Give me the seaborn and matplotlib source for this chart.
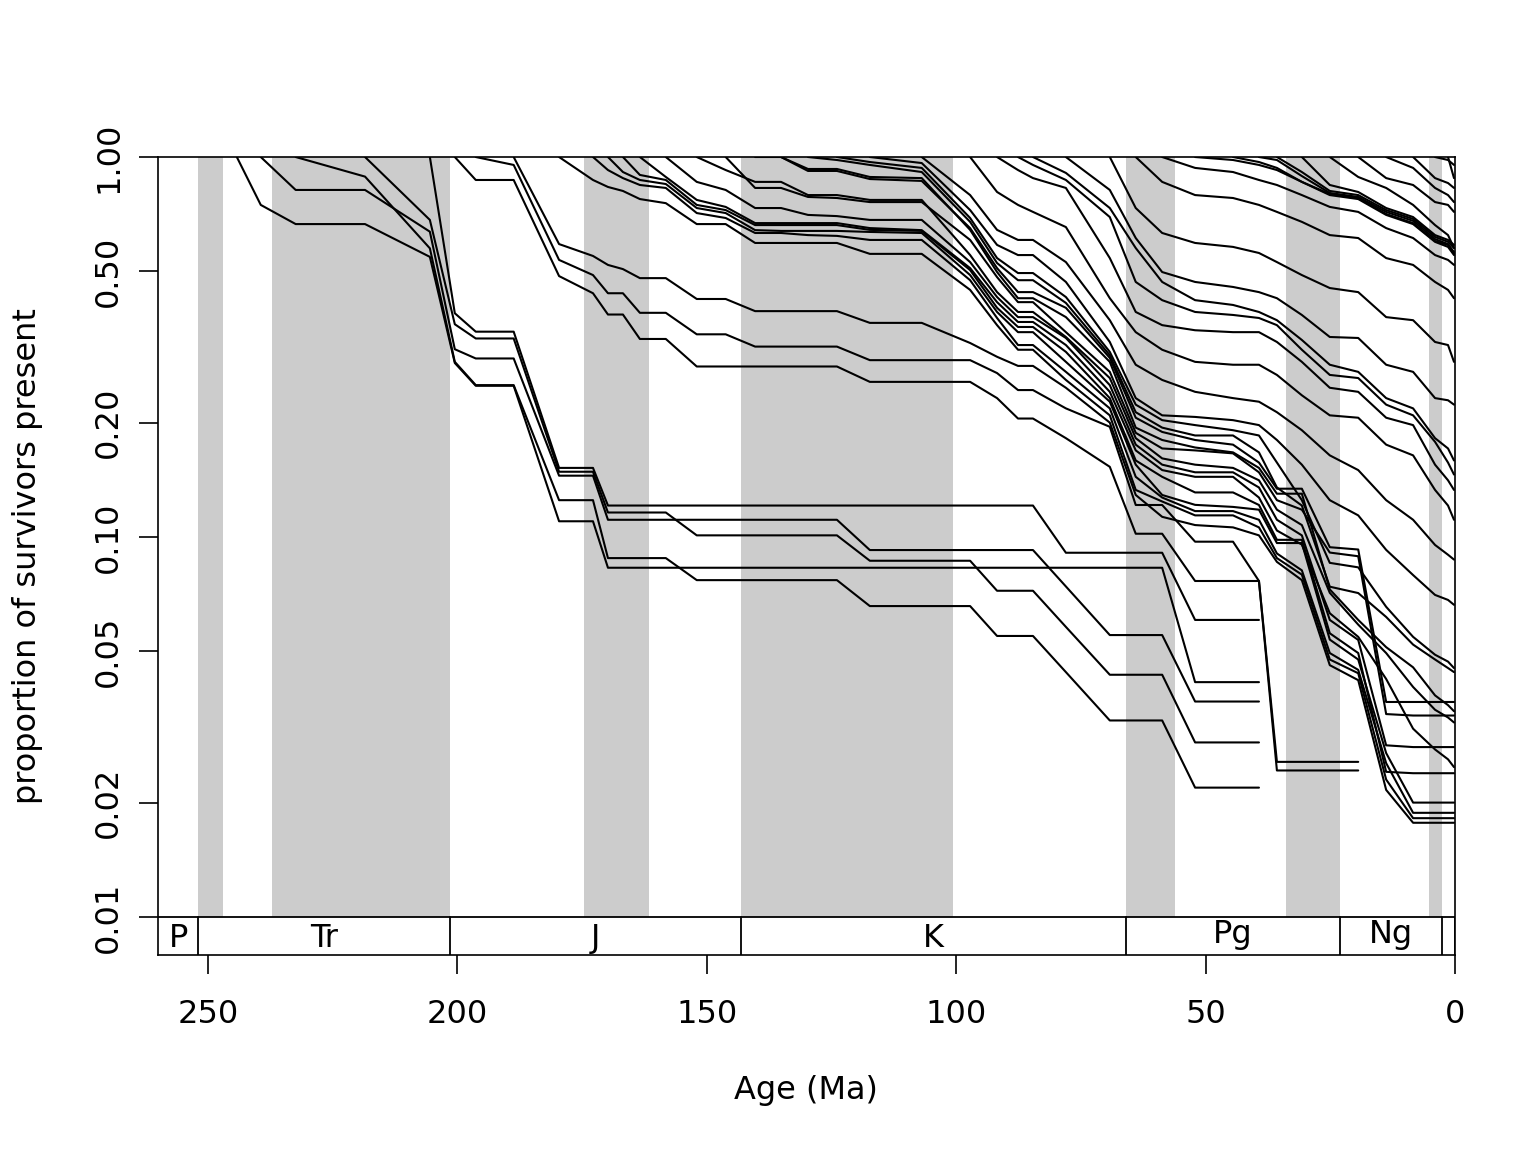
import matplotlib
matplotlib.use("Agg")
import matplotlib.pyplot as plt
import numpy as np
import pandas as pd
import seaborn as sns

# ---------------- data ----------------
# time-bin midpoints (Ma) at which survivorship is evaluated
bin_age = [244.2, 239.4, 232.4, 218.5, 205.5, 200.5, 196.3, 188.7, 179.6, 172.8,
           169.8, 166.8, 163.4, 158.2, 152.0, 146.2, 140.3, 135.1, 129.7, 123.9,
           117.3, 106.9, 97.2, 91.8, 87.6, 84.6, 78.0, 69.2, 64.0, 58.7,
           52.1, 44.5, 39.3, 35.7, 30.7, 25.1, 19.4, 13.8, 8.4, 4.0,
           1.4, 0.2]

# proportion of each cohort's taxa still present, from the cohort's start bin onward
c_244 = [1.0, 0.748, 0.666, 0.666, 0.546, 0.287, 0.250, 0.250, 0.110, 0.110,
         0.083, 0.083, 0.083, 0.083, 0.083, 0.083, 0.083, 0.083, 0.083, 0.083,
         0.083, 0.083, 0.083, 0.083, 0.083, 0.083, 0.083, 0.083, 0.083, 0.083,
         0.0415, 0.0415, 0.0415]
c_239 = [1.0, 0.819, 0.819, 0.636, 0.312, 0.295, 0.295, 0.145, 0.145,
         0.111, 0.111, 0.111, 0.111, 0.111, 0.111, 0.111, 0.111, 0.111, 0.111,
         0.0924, 0.0924, 0.0924, 0.0924, 0.0924, 0.0924, 0.0741,
         0.0552, 0.0552, 0.0552, 0.0369, 0.0369, 0.0369]
c_232 = [1.0, 0.888, 0.575, 0.289, 0.251, 0.251, 0.125, 0.125,
         0.088, 0.088, 0.088, 0.088, 0.077, 0.077, 0.077, 0.077, 0.077, 0.077,
         0.0658, 0.0658, 0.0658, 0.0549, 0.0549, 0.0549, 0.0441,
         0.0329, 0.0329, 0.0329, 0.0219, 0.0219, 0.0219]
c_218 = [1.0, 0.683, 0.363, 0.333, 0.333, 0.1485, 0.1485,
         0.116, 0.116, 0.116, 0.116, 0.101, 0.101, 0.101, 0.101, 0.101, 0.101,
         0.0866, 0.0866, 0.0866, 0.0722, 0.0722, 0.0722, 0.058,
         0.0434, 0.0434, 0.0434, 0.0288, 0.0288, 0.0288]
c_205 = [1.0, 0.388, 0.347, 0.347, 0.152, 0.152,
         0.121, 0.121, 0.121, 0.121, 0.121, 0.121, 0.121, 0.121,
         0.121, 0.121, 0.121, 0.121, 0.121, 0.121, 0.121, 0.121,
         0.0909, 0.0909, 0.0909, 0.0909, 0.0605, 0.0605, 0.0605]
c_200 = [1.0, 0.870, 0.870, 0.486, 0.438, 0.385, 0.385, 0.332, 0.332,
         0.281, 0.281, 0.281, 0.281, 0.281, 0.281, 0.256, 0.256, 0.256,
         0.232, 0.205, 0.205, 0.182, 0.153, 0.102, 0.102, 0.0766, 0.0766, 0.0766,
         0.0243, 0.0243, 0.0243, 0.0243]
c_196 = [1.0, 0.953, 0.536, 0.489, 0.438, 0.438, 0.389, 0.389, 0.3415, 0.3415,
         0.317, 0.317, 0.317, 0.317, 0.292, 0.292, 0.292,
         0.270, 0.2436, 0.2436, 0.218, 0.195, 0.1214, 0.1214, 0.0972, 0.0972, 0.0766,
         0.0256, 0.0256, 0.0256, 0.0256]
c_189 = [1.0, 0.590, 0.549, 0.520, 0.507, 0.480, 0.480, 0.423, 0.423,
         0.393, 0.393, 0.393, 0.393, 0.366, 0.366, 0.324, 0.298, 0.282, 0.282,
         0.247, 0.200, 0.129, 0.113, 0.1075, 0.106, 0.101, 0.086, 0.077,
         0.046, 0.042, 0.0216, 0.0177, 0.0177, 0.0177, 0.0177]
c_180 = [1.0, 0.870, 0.834, 0.814, 0.775, 0.756, 0.666, 0.666,
         0.594, 0.594, 0.594, 0.594, 0.556, 0.556, 0.447, 0.361, 0.311, 0.311,
         0.259, 0.209, 0.133, 0.124, 0.114, 0.114, 0.106, 0.088, 0.0796,
         0.0476, 0.0438, 0.0230, 0.0182, 0.0182, 0.0182, 0.0182]
c_173 = [1.0, 0.924, 0.880, 0.844, 0.829, 0.712, 0.691, 0.631, 0.631, 0.623,
         0.620, 0.605, 0.605, 0.474, 0.377, 0.320, 0.320, 0.272, 0.218,
         0.144, 0.127, 0.117, 0.117, 0.111, 0.0905, 0.0817, 0.0495, 0.0447,
         0.0254, 0.0188, 0.0188, 0.0188, 0.0188]
c_170 = [1.0, 0.913, 0.870, 0.849, 0.734, 0.712, 0.642, 0.639, 0.639, 0.639,
         0.635, 0.631, 0.489, 0.391, 0.346, 0.346, 0.289, 0.227,
         0.155, 0.129, 0.1215, 0.120, 0.118, 0.0964, 0.0964, 0.0537, 0.0476,
         0.0270, 0.0200, 0.0200, 0.0200, 0.0200]
c_167 = [1.0, 0.897, 0.870, 0.748, 0.725, 0.662, 0.662, 0.662, 0.662,
         0.643, 0.639, 0.504, 0.401, 0.357, 0.357, 0.307, 0.232,
         0.159, 0.144, 0.131, 0.131, 0.1214, 0.0983, 0.0983, 0.0558, 0.0495,
         0.0241, 0.0239, 0.0239, 0.0239, 0.0239]
c_163 = [1.0, 0.886, 0.771, 0.739, 0.670, 0.670, 0.670, 0.670, 0.650, 0.642,
         0.510, 0.415, 0.368, 0.368, 0.320, 0.241,
         0.169, 0.150, 0.144, 0.144, 0.127, 0.104, 0.0955, 0.0630, 0.0546,
         0.0423, 0.0313, 0.0276, 0.0260, 0.0248]
c_158 = [1.0, 0.860, 0.819, 0.734, 0.734, 0.704, 0.699, 0.683, 0.683,
         0.529, 0.428, 0.379, 0.379, 0.334, 0.251,
         0.175, 0.155, 0.148, 0.148, 0.135, 0.111, 0.101, 0.0605, 0.0536,
         0.0283, 0.0280, 0.0280, 0.0280, 0.0280]
c_152 = [1.0, 0.924, 0.860, 0.860, 0.794, 0.794, 0.771, 0.771,
         0.552, 0.441, 0.391, 0.391, 0.336, 0.262,
         0.182, 0.161, 0.155, 0.152, 0.141, 0.118, 0.1075, 0.0713, 0.0588,
         0.0495, 0.0403, 0.0351, 0.0335, 0.0325]
c_146 = [1.0, 0.829, 0.829, 0.785, 0.780, 0.761, 0.761,
         0.605, 0.483, 0.415, 0.415, 0.346, 0.272,
         0.188, 0.171, 0.169, 0.166, 0.148, 0.125, 0.118, 0.091, 0.089,
         0.0342, 0.0339, 0.0339, 0.0339, 0.0339]
c_140 = [1.0, 1.0, 0.930, 0.930, 0.886, 0.880, 0.643, 0.498, 0.425, 0.425,
         0.379, 0.289, 0.194, 0.180, 0.172, 0.167, 0.152, 0.130, 0.130,
         0.0728, 0.0605, 0.0513, 0.0454, 0.0383, 0.0361, 0.0348]
c_135 = [1.0, 0.919, 0.919, 0.875, 0.865, 0.650, 0.510, 0.441, 0.441,
         0.401, 0.296, 0.206, 0.189, 0.180, 0.175, 0.157, 0.134, 0.134,
         0.094, 0.0927, 0.0368, 0.0368, 0.0368, 0.0368, 0.0368]
c_130 = [1.0, 0.982, 0.953, 0.913, 0.675, 0.526, 0.474, 0.474,
         0.413, 0.301, 0.213, 0.194, 0.185, 0.185, 0.167, 0.135, 0.121,
         0.0740, 0.0712, 0.0616, 0.0521, 0.0476, 0.0452, 0.0441]
c_124 = [1.0, 0.970, 0.936, 0.691, 0.542, 0.495, 0.495,
         0.428, 0.307, 0.223, 0.203, 0.197, 0.191, 0.185, 0.157, 0.125,
         0.0855, 0.0832, 0.0655, 0.0546, 0.0490, 0.0470, 0.0452]
c_117 = [1.0, 0.964, 0.725, 0.587, 0.552, 0.552, 0.469, 0.326,
         0.232, 0.209, 0.207, 0.203, 0.197, 0.180, 0.155, 0.125, 0.114,
         0.0925, 0.0794, 0.0704, 0.0683, 0.0663]
c_107 = [1.0, 0.794, 0.643, 0.605, 0.605, 0.529, 0.372,
         0.284, 0.259, 0.241, 0.232, 0.227, 0.213, 0.191, 0.164, 0.150,
         0.125, 0.111, 0.0953, 0.0898, 0.0872]
c_97 = [1.0, 0.809, 0.748, 0.717, 0.654, 0.425,
        0.346, 0.311, 0.289, 0.284, 0.284, 0.267, 0.236, 0.209, 0.206,
        0.175, 0.164, 0.133, 0.121, 0.111]
c_92 = [1.0, 0.924, 0.880, 0.829, 0.542,
        0.391, 0.361, 0.350, 0.346, 0.346, 0.326, 0.289, 0.247, 0.241,
        0.206, 0.197, 0.155, 0.141, 0.133]
c_88 = [1.0, 0.953, 0.870, 0.695,
        0.469, 0.420, 0.391, 0.384, 0.377, 0.361, 0.311, 0.267, 0.262,
        0.223, 0.209, 0.178, 0.157, 0.146]
c_85 = [1.0, 0.908, 0.734,
        0.576, 0.469, 0.420, 0.408, 0.391, 0.372, 0.330, 0.284, 0.272,
        0.232, 0.218, 0.182, 0.171, 0.159]
c_78 = [1.0, 0.819,
        0.612, 0.498, 0.469, 0.455, 0.441, 0.425, 0.384, 0.336, 0.334,
        0.284, 0.272, 0.232, 0.229, 0.223]
c_69 = [1.0, 0.734, 0.631, 0.594, 0.580, 0.559, 0.529, 0.489, 0.452, 0.441,
        0.379, 0.372, 0.326, 0.320, 0.289]
c_64 = [1.0, 0.860, 0.794, 0.780, 0.748, 0.717, 0.675, 0.623, 0.612,
        0.542, 0.520, 0.469, 0.447, 0.425]
c_59 = [1.0, 0.936, 0.913, 0.870, 0.844, 0.794, 0.739, 0.717,
        0.650, 0.612, 0.552, 0.536, 0.520]
c_52 = [1.0, 0.982, 0.953, 0.924, 0.860, 0.799, 0.780,
        0.708, 0.670, 0.601, 0.587, 0.556]
c_45 = [1.0, 0.970, 0.936, 0.860, 0.794, 0.775,
        0.704, 0.666, 0.598, 0.580, 0.552]
c_39 = [1.0, 0.982, 0.891, 0.804, 0.785, 0.717, 0.679, 0.608, 0.590, 0.562]
c_36 = [1.0, 0.913, 0.814, 0.794, 0.725, 0.687, 0.616, 0.598, 0.576]
c_31 = [1.0, 0.844, 0.809, 0.734, 0.695, 0.623, 0.605, 0.587]
c_25 = [1.0, 0.886, 0.829, 0.748, 0.662, 0.623, 0.576]
c_19 = [1.0, 0.880, 0.844, 0.761, 0.748, 0.717]
c_14 = [1.0, 0.936, 0.829, 0.794, 0.761]
c_8 = [1.0, 0.880, 0.854, 0.829]
c_4 = [1.0, 0.982, 0.953]
c_1 = [1.0, 0.880]

cohort_start = [244.2, 239.4, 232.4, 218.5, 205.5, 200.5, 196.3, 188.7, 179.6, 172.8,
                169.8, 166.8, 163.4, 158.2, 152.0, 146.2, 140.3, 135.1, 129.7, 123.9,
                117.3, 106.9, 97.2, 91.8, 87.6, 84.6, 78.0, 69.2, 64.0, 58.7,
                52.1, 44.5, 39.3, 35.7, 30.7, 25.1, 19.4, 13.8, 8.4, 4.0, 1.4]
cohorts = [c_244, c_239, c_232, c_218, c_205, c_200, c_196, c_189, c_180, c_173,
           c_170, c_167, c_163, c_158, c_152, c_146, c_140, c_135, c_130, c_124,
           c_117, c_107, c_97, c_92, c_88, c_85, c_78, c_69, c_64, c_59,
           c_52, c_45, c_39, c_36, c_31, c_25, c_19, c_14, c_8, c_4, c_1]

# shaded intervals (Ma) and period boxes
band_old = [251.9, 237.1, 174.7, 143.1, 66.0, 33.9, 5.2]
band_young = [246.9, 201.5, 161.6, 100.6, 56.1, 23.05, 2.67]
period_names = ["P", "Tr", "J", "K", "Pg", "Ng", ""]
period_old = [260.0, 251.9, 201.5, 143.1, 66.0, 23.05, 2.67]
period_young = [251.9, 201.5, 143.1, 66.0, 23.05, 2.67, 0.0]

y_ticks = [1.0, 0.5, 0.2, 0.1, 0.05, 0.02, 0.01]
y_ticklabels = ["1.00", "0.50", "0.20", "0.10", "0.05", "0.02", "0.01"]
x_ticks = [250, 200, 150, 100, 50, 0]

# ---------------- long table ----------------
rows = []
for k, (start, vals) in enumerate(zip(cohort_start, cohorts)):
    i0 = bin_age.index(start)
    for a, v in zip(bin_age[i0:], vals):
        rows.append({"cohort": k, "age": a, "prop": v})
df = pd.DataFrame(rows)

# ---------------- figure ----------------
sns.set_theme(style="white")
plt.rcParams["font.family"] = ["DejaVu Sans"]
plt.rcParams.update({"text.color": "black", "axes.labelcolor": "black",
                     "xtick.color": "black", "ytick.color": "black",
                     "axes.edgecolor": "black"})

FS = 23
W, H = 1536, 1152
fig = plt.figure(figsize=(W / 100, H / 100), dpi=100)
ax = fig.add_axes([158 / W, 1 - 955 / H, (1455 - 158) / W, (955 - 157) / H])

ymin = 10 ** -2.1
ax.set_yscale("log")
ax.set_xlim(260, 0)
ax.set_ylim(ymin, 1.0)

for a, b in zip(band_old, band_young):
    ax.fill_between([a, b], 0.01, 1.0, color="#cccccc", lw=0, zorder=0)

sns.lineplot(data=df, x="age", y="prop", units="cohort", estimator=None,
             color="black", linewidth=1.5, ax=ax, legend=False, zorder=3)

# time-scale boxes
ax.plot([260, 0], [0.01, 0.01], color="black", lw=1.3, zorder=4)
for name, a, b in zip(period_names, period_old, period_young):
    ax.plot([b, b], [ymin, 0.01], color="black", lw=1.3, zorder=4)
    if name:
        ybase = 10 ** -2.0684 if "g" in name else 10 ** -2.0789
        ax.text((a + b) / 2, ybase, name, ha="center", va="baseline",
                fontsize=FS, color="black", zorder=5)

ax.set_yticks(y_ticks)
ax.set_yticklabels(y_ticklabels, rotation=90, va="center")
ax.yaxis.set_minor_locator(matplotlib.ticker.NullLocator())
ax.set_xticks(x_ticks)
ax.set_xticklabels([str(t) for t in x_ticks])
ax.tick_params(axis="both", which="major", labelsize=FS, length=13.5,
               width=1.2, color="black", labelcolor="black", direction="out")
ax.tick_params(axis="x", pad=18, bottom=True, top=False)
ax.tick_params(axis="y", pad=11, left=True, right=False)
ax.set_xlabel("")
ax.set_ylabel("")
for s in ax.spines.values():
    s.set_visible(True)
    s.set_color("black")
    s.set_linewidth(1.2)

fig.text(806 / W, 1 - 1090 / H, "Age (Ma)", ha="center", va="center",
         fontsize=FS, color="black")
fig.text(28 / W, 1 - 556 / H, "proportion of survivors present", ha="center",
         va="center", rotation=90, fontsize=FS, color="black")

fig.savefig("out.png", dpi=100, facecolor="white")
